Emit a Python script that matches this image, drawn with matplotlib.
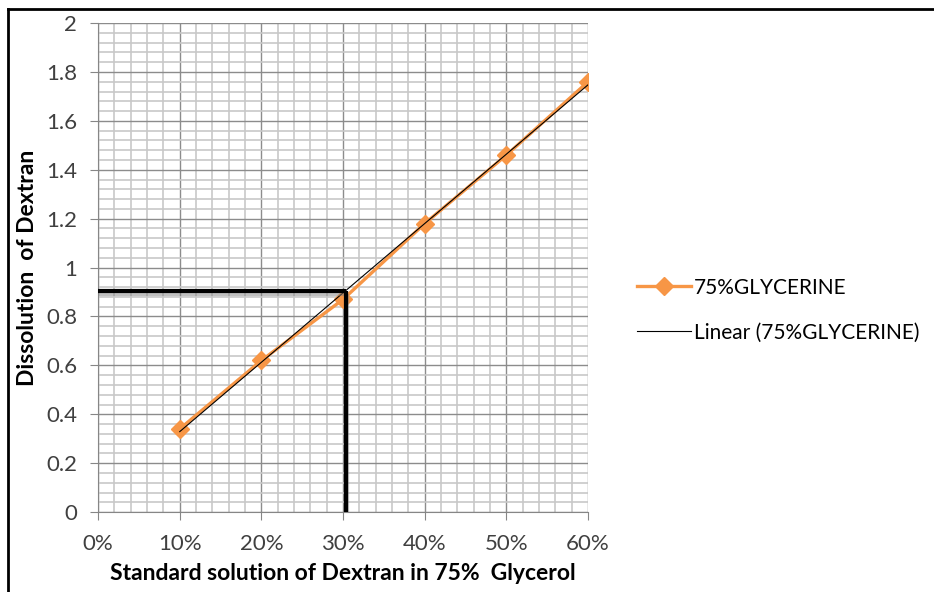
import numpy as np
import matplotlib
matplotlib.use('Agg')
import matplotlib.pyplot as plt
import matplotlib.patheffects as pe
from matplotlib.ticker import MultipleLocator, PercentFormatter
from matplotlib.lines import Line2D

plt.rcParams['font.family'] = ['Lato', 'DejaVu Sans']

# standard solutions (fraction of dextran) and measured dissolution
conc = [0.10, 0.20, 0.30, 0.40, 0.50, 0.60]
dissolution = [0.34, 0.62, 0.87, 1.18, 1.46, 1.76]
series_name = '75%GLYCERINE'

# reading for the unknown sample
unknown_x = 0.303
unknown_y = 0.905

fig = plt.figure(figsize=(9.34, 5.92), dpi=100)
ax = fig.add_axes([0.105, 0.135, 0.5246, 0.826])

ax.set_xlim(0, 0.6)
ax.set_ylim(0, 2)
ax.xaxis.set_major_locator(MultipleLocator(0.1))
ax.xaxis.set_minor_locator(MultipleLocator(0.02))
ax.yaxis.set_major_locator(MultipleLocator(0.2))
ax.yaxis.set_minor_locator(MultipleLocator(0.04))
ax.xaxis.set_major_formatter(PercentFormatter(1.0, decimals=0))
ax.yaxis.set_major_formatter(matplotlib.ticker.FuncFormatter(lambda v, p: f'{v:g}'))

ax.grid(which='minor', color='#c8c8c8', linewidth=1.2, zorder=0)
ax.grid(which='major', color='#8c8c8c', linewidth=1.0, zorder=0)
ax.set_axisbelow(True)

for s in ['top', 'right']:
    ax.spines[s].set_visible(False)
for s in ['left', 'bottom']:
    ax.spines[s].set_color('#868686')
ax.tick_params(which='minor', length=0)
ax.tick_params(which='major', length=6, color='#868686', labelsize=16,
               labelcolor='#404040')
ax.tick_params(axis='y', pad=9)
ax.tick_params(axis='x', pad=10)

# data series
ax.plot(conc, dissolution, color='#F79646', linewidth=2.4, marker='D',
        markersize=9, label=series_name, zorder=3)

# least squares trendline
k, b = np.polyfit(conc, dissolution, 1)
xt = np.array([conc[0], conc[-1]])
ax.plot(xt, k * xt + b, color='black', linewidth=0.8,
        label='Linear (' + series_name + ')', zorder=4)

# read-off lines for the unknown sample
shadow = [pe.SimpleLineShadow(offset=(1, -2), shadow_color='gray', alpha=0.5), pe.Normal()]
ax.plot([0, unknown_x], [unknown_y, unknown_y], color='black', linewidth=3,
        path_effects=shadow, zorder=5, solid_capstyle='butt')
ax.plot([unknown_x, unknown_x], [unknown_y, 0], color='black', linewidth=3,
        path_effects=shadow, zorder=5, solid_capstyle='butt')

ax.set_xlabel('Standard solution of Dextran in 75%  Glycerol', fontsize=16.5,
              fontweight='bold', labelpad=6)
ax.set_ylabel('Dissolution  of Dextran', fontsize=16.5, fontweight='bold', labelpad=6)

leg = ax.legend(loc='center left', bbox_to_anchor=(1.1, 0.413), frameon=False,
                fontsize=15, handlelength=2.6, handletextpad=0.15, labelspacing=1.2,
                borderaxespad=0, borderpad=0)

# frame at the top and left edge of the figure
fig.add_artist(Line2D([0.009, 0.009], [0, 0.985], transform=fig.transFigure,
                      color='black', linewidth=2))
fig.add_artist(Line2D([0.009, 1], [0.985, 0.985], transform=fig.transFigure,
                      color='black', linewidth=2))

fig.savefig('out.png', dpi=100)
